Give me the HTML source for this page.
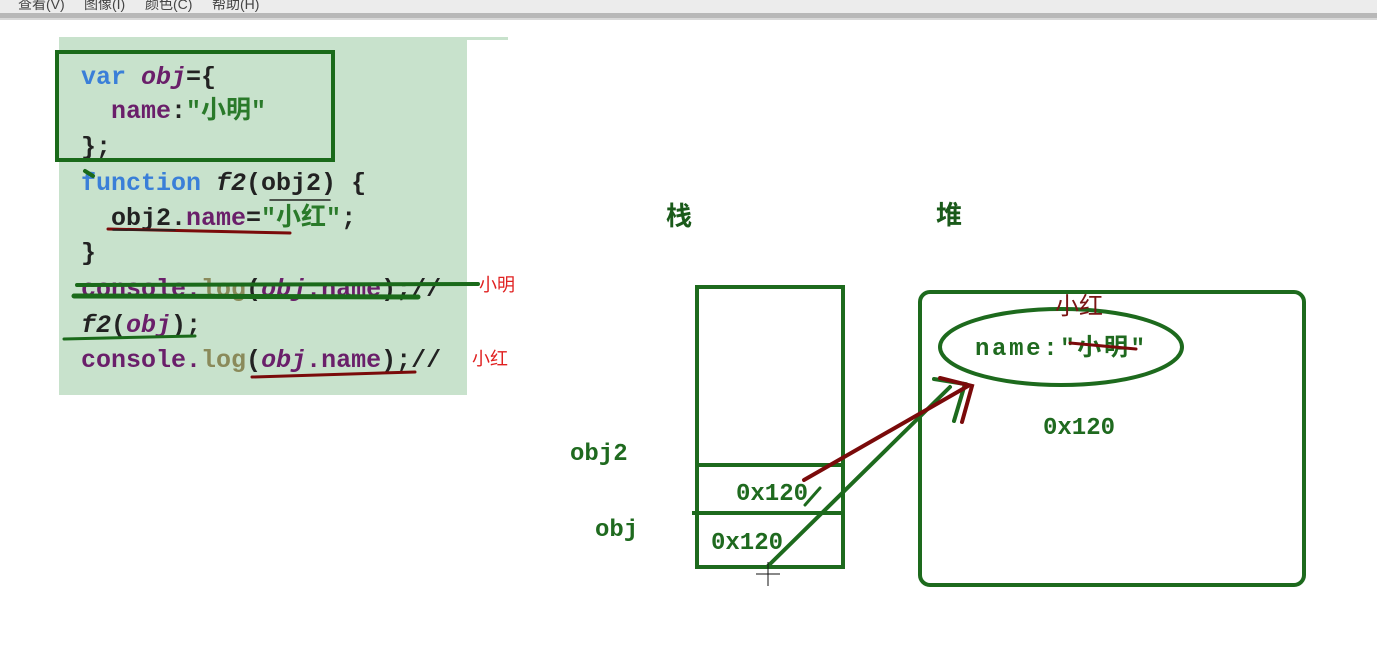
<!DOCTYPE html>
<html><head><meta charset="utf-8"><style>
body{margin:0;width:1377px;height:670px;overflow:hidden;background:#fff}
svg{display:block}
.c{font-family:"Liberation Mono","Noto Sans CJK SC",monospace;font-size:25px;font-weight:bold}
.d{font-family:"Liberation Mono","Noto Sans CJK SC",monospace;font-size:24px;font-weight:bold;fill:#1f6a1f}
</style></head><body>
<svg width="1377" height="670" viewBox="0 0 1377 670">
<rect x="0" y="0" width="1377" height="13" fill="#ececec"/>
<rect x="0" y="13" width="1377" height="7" fill="#b8b8b8"/>
<rect x="0" y="18" width="1377" height="2" fill="#d8d8d8"/>
<text x="18" y="9" font-family="Liberation Sans,Noto Sans CJK SC,sans-serif" font-size="14" fill="#444">查看(V)</text>
<text x="84" y="9" font-family="Liberation Sans,Noto Sans CJK SC,sans-serif" font-size="14" fill="#444">图像(I)</text>
<text x="145" y="9" font-family="Liberation Sans,Noto Sans CJK SC,sans-serif" font-size="14" fill="#444">颜色(C)</text>
<text x="212" y="9" font-family="Liberation Sans,Noto Sans CJK SC,sans-serif" font-size="14" fill="#444">帮助(H)</text>
<rect x="59" y="37" width="408" height="358" fill="#c8e2cc"/>
<rect x="467" y="37" width="41" height="3" fill="#c8e2cc"/>
<g class="c">
<text x="81" y="84"><tspan fill="#3a7fd8">var </tspan><tspan fill="#6a1f6a" font-style="italic">obj</tspan><tspan fill="#222">={</tspan></text>
<text x="111" y="118"><tspan fill="#6a1f6a">name</tspan><tspan fill="#222">:</tspan><tspan fill="#2a7a2a">"小明"</tspan></text>
<text x="81" y="154" fill="#222">};</text>
<text x="81" y="190"><tspan fill="#3a7fd8">function </tspan><tspan fill="#222" font-style="italic">f2</tspan><tspan fill="#222">(obj2) {</tspan></text>
<text x="111" y="225"><tspan fill="#222">obj2.</tspan><tspan fill="#6a1f6a">name</tspan><tspan fill="#222">=</tspan><tspan fill="#2a7a2a">"小红"</tspan><tspan fill="#222">;</tspan></text>
<text x="81" y="260" fill="#222">}</text>
<text x="81" y="296"><tspan fill="#6a1f6a">console.</tspan><tspan fill="#8a8a5a">log</tspan><tspan fill="#222">(</tspan><tspan fill="#6a1f6a" font-style="italic">obj</tspan><tspan fill="#6a1f6a">.name</tspan><tspan fill="#222">);//</tspan></text>
<text x="81" y="332"><tspan fill="#222" font-style="italic">f2</tspan><tspan fill="#222">(</tspan><tspan fill="#6a1f6a" font-style="italic">obj</tspan><tspan fill="#222">);</tspan></text>
<text x="81" y="367"><tspan fill="#6a1f6a">console.</tspan><tspan fill="#8a8a5a">log</tspan><tspan fill="#222">(</tspan><tspan fill="#6a1f6a" font-style="italic">obj</tspan><tspan fill="#6a1f6a">.name</tspan><tspan fill="#222">);//</tspan></text>
</g>
<text x="479" y="291" font-family="Liberation Sans,Noto Sans CJK SC,sans-serif" font-size="18" fill="#e02020">小明</text>
<text x="472" y="365" font-family="Liberation Sans,Noto Sans CJK SC,sans-serif" font-size="18" fill="#e02020">小红</text>
<g fill="none" stroke-linecap="round">
<rect x="57" y="52" width="276" height="108" stroke="#1a6a1a" stroke-width="4"/>
<path d="M108 229 L290 233" stroke="#7a0a0a" stroke-width="3"/>
<path d="M77 285 L478 284" stroke="#1a6a1a" stroke-width="4"/>
<path d="M74 296 L418 297" stroke="#1a6a1a" stroke-width="5"/>
<path d="M64 339 L195 336" stroke="#1a6a1a" stroke-width="3"/>
<path d="M252 377 L415 372" stroke="#7a0a0a" stroke-width="3"/>
<path d="M85 171 L93 176" stroke="#1a6a1a" stroke-width="4"/>
<line x1="113" y1="230" x2="175" y2="230" stroke="#222" stroke-width="1.5"/>
<line x1="270" y1="200" x2="330" y2="200" stroke="#222" stroke-width="1.5"/>
</g>
<text x="666" y="225" font-family="Liberation Sans,Noto Sans CJK SC,sans-serif" font-size="26" font-weight="bold" fill="#1a5a1a">栈</text>
<text x="936" y="224" font-family="Liberation Sans,Noto Sans CJK SC,sans-serif" font-size="26" font-weight="bold" fill="#1a5a1a">堆</text>
<g fill="none" stroke="#1d6a1d" stroke-width="4">
<rect x="697" y="287" width="146" height="280"/>
<line x1="697" y1="465" x2="843" y2="465"/>
<line x1="692" y1="513" x2="845" y2="513"/>
<rect x="920" y="292" width="384" height="293" rx="10"/>
<ellipse cx="1061" cy="347" rx="121" ry="38"/>
</g>
<text class="d" x="570" y="460">obj2</text>
<text class="d" x="595" y="536">obj</text>
<text class="d" x="736" y="500">0x120</text>
<text class="d" x="711" y="549">0x120</text>
<text class="d" x="1043" y="434">0x120</text>
<text class="d" x="975" y="355" textLength="170">name:"小明"</text>
<text x="1055" y="314" font-family="Liberation Sans,Noto Sans CJK SC,sans-serif" font-size="24" fill="#7a1515">小红</text>
<g fill="none" stroke-linecap="round">
<path d="M1070 343 L1136 349" stroke="#7a0a0a" stroke-width="3"/>
<path d="M768 566 L950 387" stroke="#1d6a1d" stroke-width="4"/>
<path d="M934 379 L965 384 L954 421" stroke="#1d6a1d" stroke-width="4"/>
<path d="M820 488 L805 505" stroke="#1d6a1d" stroke-width="3"/>
<path d="M804 480 L968 386" stroke="#7a0a0a" stroke-width="4"/>
<path d="M940 378 L972 386 L962 422" stroke="#7a0a0a" stroke-width="4"/>
</g>
<g stroke="#111" stroke-width="1">
<line x1="768" y1="562" x2="768" y2="586"/><line x1="756" y1="574" x2="780" y2="574"/>
</g>
</svg>
</body></html>
